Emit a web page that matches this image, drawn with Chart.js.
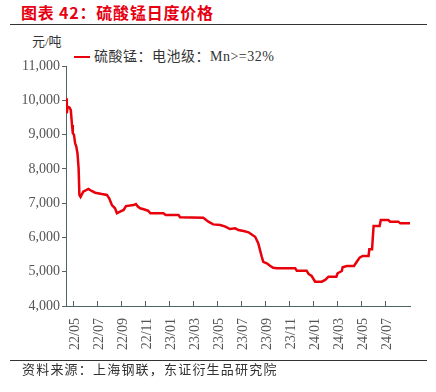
<!DOCTYPE html>
<html lang="zh">
<head>
<meta charset="UTF-8">
<title>硫酸锰日度价格</title>
<script src="https://cdn.jsdelivr.net/npm/chart.js"></script>
<style>
  body { margin: 0; width: 436px; height: 392px; background: #fff; position: relative; overflow: hidden; font-family: "Liberation Serif", "Noto Sans CJK SC", serif; color: #333; }
  .abs { position: absolute; white-space: nowrap; }
  .title { left: 21px; top: 1px; font: bold 16px/22px "Noto Sans CJK SC", sans-serif; letter-spacing: 0.8px; color: #e60012; }
  .rule { left: 10px; width: 417px; height: 1px; background: #333; }
  .unit { left: 32px; top: 33px; font-size: 13px; line-height: 18px; }
  .legend-line { left: 74px; top: 55.5px; width: 16px; height: 2.5px; background: #e8000b; }
  .legend-text { left: 94px; top: 47px; font-size: 14px; line-height: 20px; letter-spacing: 0.5px; }
  .source { left: 22px; top: 361px; font-size: 13px; line-height: 18px; letter-spacing: 1.2px; }
  canvas { position: absolute; left: 0; top: 0; }
</style>
</head>
<body>
<div class="abs title">图表 42：硫酸锰日度价格</div>
<div class="abs rule" style="top:24px"></div>
<div class="abs unit">元/吨</div>
<div class="abs legend-line"></div>
<div class="abs legend-text">硫酸锰：电池级：Mn&gt;=32%</div>
<canvas id="chart" width="436" height="392"></canvas>
<div class="abs rule" style="top:360px"></div>
<div class="abs source">资料来源：上海钢联，东证衍生品研究院</div>

<script>
  // dates (turning points of the series)
  const dates = [
    '2022-04-13', '2022-04-15', '2022-04-17', '2022-04-22', '2022-04-25', '2022-04-28', '2022-04-30',
    '2022-05-03', '2022-05-06', '2022-05-09', '2022-05-12', '2022-05-15', '2022-05-17', '2022-05-20',
    '2022-05-27', '2022-06-09', '2022-06-17', '2022-06-26', '2022-07-13', '2022-07-26', '2022-08-01',
    '2022-08-08', '2022-08-16', '2022-08-21', '2022-08-29', '2022-09-07', '2022-09-13', '2022-10-02',
    '2022-10-08', '2022-10-13', '2022-10-19', '2022-10-28', '2022-11-08', '2022-11-14', '2022-12-17',
    '2022-12-23', '2023-01-25', '2023-01-29', '2023-03-27', '2023-04-09', '2023-04-21', '2023-05-09',
    '2023-05-22', '2023-06-03', '2023-06-16', '2023-06-24', '2023-07-07', '2023-07-20', '2023-07-30',
    '2023-08-06', '2023-08-10', '2023-08-14', '2023-08-23', '2023-08-27', '2023-09-05', '2023-09-13',
    '2023-09-21', '2023-09-30', '2023-11-16', '2023-11-20', '2023-12-15', '2023-12-20', '2023-12-28',
    '2024-01-06', '2024-01-23', '2024-02-01', '2024-02-09', '2024-02-28', '2024-03-02', '2024-03-13',
    '2024-03-15', '2024-03-26', '2024-04-13', '2024-04-20', '2024-04-27', '2024-05-05', '2024-05-20',
    '2024-05-22', '2024-05-29', '2024-06-02', '2024-06-17', '2024-06-20', '2024-07-09', '2024-07-14',
    '2024-08-04', '2024-08-09', '2024-09-03'
  ];
  const prices = [
    10060, 9620, 9815, 9785, 9715, 9280, 9040,
    8990, 8745, 8650, 8455, 8015, 7240, 7180,
    7335, 7415, 7355, 7305, 7265, 7240, 7140,
    6945, 6850, 6705, 6750, 6800, 6915, 6945,
    6975, 6900, 6850, 6820, 6780, 6705, 6705,
    6655, 6655, 6590, 6575, 6460, 6380, 6360,
    6315, 6245, 6265, 6215, 6185, 6150, 6070,
    6020, 5925, 5830, 5440, 5290, 5245, 5175,
    5115, 5100, 5100, 5030, 5030, 4935, 4875,
    4710, 4710, 4760, 4855, 4855, 4955, 5020,
    5130, 5165, 5165, 5290, 5410, 5460, 5460,
    5655, 5655, 6335, 6335, 6510, 6510, 6460,
    6460, 6410, 6410
  ];
  const tickLabels = ['22/05', '22/07', '22/09', '22/11', '23/01', '23/03', '23/05', '23/07',
                      '23/09', '23/11', '24/01', '24/03', '24/05', '24/07'];
  const seriesName = '硫酸锰：电池级：Mn>=32%';

  // months since 2022-01-01 (fractional)
  function toMonth(s) {
    const [y, m, d] = s.split('-').map(Number);
    const dim = new Date(y, m, 0).getDate();
    return (y - 2022) * 12 + (m - 1) + (d - 1) / dim;
  }
  function labelToMonth(l) {
    const [yy, mm] = l.split('/').map(Number);
    return (yy - 22) * 12 + (mm - 1);
  }

  const points = dates.map((d, i) => ({ x: toMonth(d), y: prices[i] }));
  const axisColor = '#4f6464';

  // x ticks point up into the plot
  const innerTicks = {
    id: 'innerTicks',
    afterDraw(chart) {
      const { ctx, scales: { x } } = chart;
      ctx.save();
      ctx.strokeStyle = axisColor;
      ctx.lineWidth = 1;
      x.ticks.forEach(t => {
        const px = Math.round(x.getPixelForValue(t.value)) + 0.5;
        ctx.beginPath();
        ctx.moveTo(px, x.top);
        ctx.lineTo(px, x.top - 5);
        ctx.stroke();
      });
      ctx.restore();
    }
  };

  new Chart(document.getElementById('chart'), {
    type: 'line',
    data: {
      datasets: [{
        label: seriesName,
        data: points,
        borderColor: '#e8000b',
        borderWidth: 2.5,
        pointRadius: 0,
        tension: 0,
        fill: false
      }]
    },
    options: {
      responsive: false,
      animation: false,
      layout: { padding: { top: 66, right: 26, left: 0, bottom: 0 } },
      plugins: { legend: { display: false }, tooltip: { enabled: false } },
      scales: {
        x: {
          type: 'linear',
          min: toMonth(dates[0]),
          max: toMonth(dates[dates.length - 1]),
          afterFit: s => { s.height = 86; },
          afterBuildTicks: s => { s.ticks = tickLabels.map(l => ({ value: labelToMonth(l) })); },
          border: { color: axisColor, width: 1 },
          grid: { drawOnChartArea: false, drawTicks: false },
          ticks: {
            autoSkip: false,
            minRotation: 90,
            maxRotation: 90,
            padding: 12,
            labelOffset: 2,
            color: '#555',
            font: { family: 'Liberation Serif', size: 14 },
            callback: (v) => tickLabels[tickLabels.map(labelToMonth).indexOf(v)]
          }
        },
        y: {
          min: 4000,
          max: 11000,
          afterFit: s => { s.width = 66; },
          border: { color: axisColor, width: 1 },
          grid: { drawOnChartArea: false, tickLength: 4, color: axisColor },
          ticks: {
            stepSize: 1000,
            padding: 2,
            color: '#555',
            font: { family: 'Liberation Serif', size: 14 },
            callback: v => v.toLocaleString('en-US')
          }
        }
      }
    },
    plugins: [innerTicks]
  });
</script>
</body>
</html>
